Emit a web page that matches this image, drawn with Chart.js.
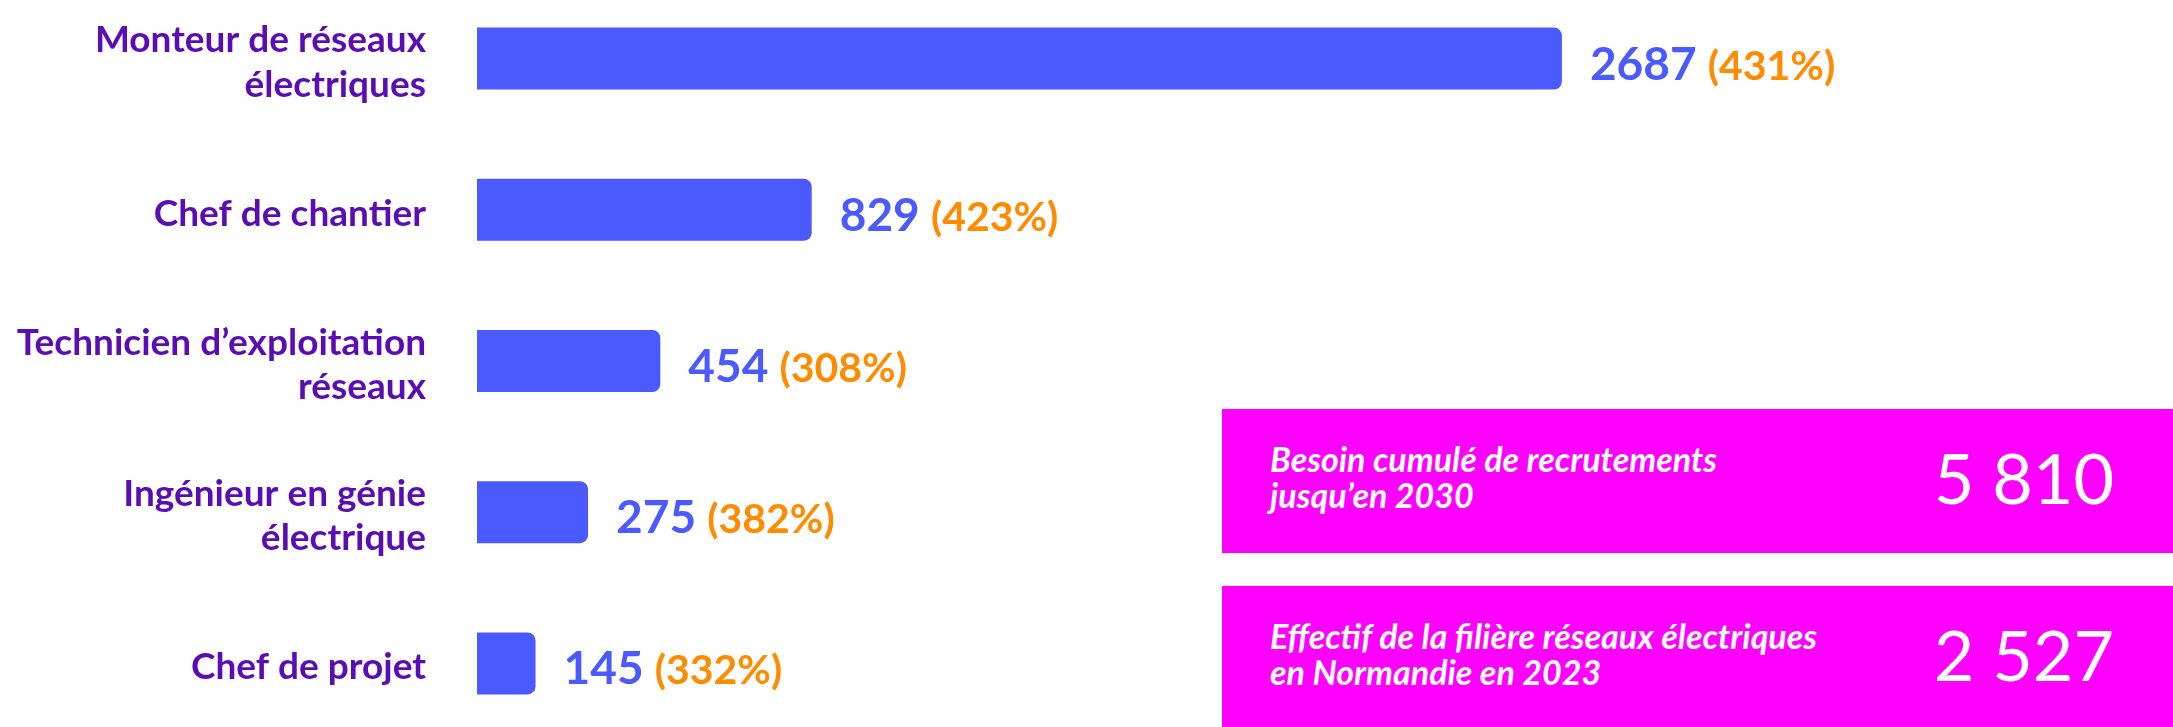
<!DOCTYPE html>
<html lang="fr">
<head>
<meta charset="utf-8">
<title>Besoins de recrutement - réseaux électriques</title>
<script src="https://cdn.jsdelivr.net/npm/chart.js@4.4.1/dist/chart.umd.min.js"></script>
<style>
  html, body { margin: 0; padding: 0; background: #fff; }
  body { width: 2173px; height: 727px; position: relative; overflow: hidden; font-family: Lato, sans-serif; }
  #wrap { position: absolute; left: 0; top: -17px; width: 2173px; height: 760px; }
  .box { position: absolute; left: 1222px; width: 951px; height: 144px; background: #ff00ff; color: #fff; }
  .box .txt { position: absolute; left: 48px; top: 32px; font-weight: 700; font-style: italic; font-size: 34px; line-height: 36px; white-space: pre; }
  .box .num { position: absolute; right: 59px; top: 33px; font-weight: 400; font-size: 70px; line-height: 70px; }
</style>
</head>
<body>
<div id="wrap"><canvas id="chart" width="2173" height="760"></canvas></div>
<div class="box" style="top:409px"><div class="txt" id="t0"></div><div class="num" id="n0"></div></div>
<div class="box" style="top:586px"><div class="txt" id="t1"></div><div class="num" id="n1"></div></div>
<script>
// data
const categories = [
  ['Monteur de réseaux', 'électriques'],
  'Chef de chantier',
  ['Technicien d’exploitation', 'réseaux'],
  ['Ingénieur en génie', 'électrique'],
  'Chef de projet'
];
const besoins = [2687, 829, 454, 275, 145];
const evolutions = [431, 423, 308, 382, 332];

const totalLabels = ['Besoin cumulé de recrutements\njusqu’en 2030', 'Effectif de la filière réseaux électriques\nen Normandie en 2023'];
const totalValues = ['5 810', '2 527'];

const BLUE = '#4a5aff';
const ORANGE = '#ff8c00';
const PURPLE = '#5b0db5';

totalLabels.forEach((t, i) => {
  document.getElementById('t' + i).textContent = t;
  document.getElementById('n' + i).textContent = totalValues[i];
});

// value + percentage after each bar
const valueLabels = {
  id: 'valueLabels',
  afterDatasetsDraw(chart) {
    const ctx = chart.ctx;
    const meta = chart.getDatasetMeta(0);
    ctx.save();
    ctx.textBaseline = 'alphabetic';
    ctx.textAlign = 'left';
    meta.data.forEach((bar, i) => {
      const x = bar.x + 28;
      const y = bar.y + 21;
      ctx.font = 'bold 46px Lato';
      ctx.fillStyle = BLUE;
      const v = String(besoins[i]);
      ctx.fillText(v, x, y);
      const w = ctx.measureText(v + ' ').width;
      ctx.font = 'bold 41px Lato';
      ctx.fillStyle = ORANGE;
      ctx.fillText('(' + evolutions[i] + '%)', x + w, y);
    });
    ctx.restore();
  }
};

new Chart(document.getElementById('chart'), {
  type: 'bar',
  data: {
    labels: categories,
    datasets: [{
      data: besoins,
      backgroundColor: BLUE,
      borderRadius: 8,
      barPercentage: 0.41,
      categoryPercentage: 1
    }]
  },
  options: {
    indexAxis: 'y',
    responsive: false,
    animation: false,
    devicePixelRatio: 1,
    layout: { padding: { top: 0, bottom: 4, right: 81, left: 0 } },
    plugins: { legend: { display: false }, tooltip: { enabled: false } },
    scales: {
      x: {
        min: 0,
        max: 4000,
        display: false
      },
      y: {
        grid: { display: false },
        border: { display: false },
        afterFit(scale) {
          scale.width = 477;
          // labels sit beside the bars, no extra room needed above/below
          scale.paddingTop = 0;
          scale.paddingBottom = 0;
        },
        ticks: {
          color: PURPLE,
          padding: 43,
          labelOffset: 4,
          font: { family: 'Lato', weight: 'bold', size: 37, lineHeight: 1.2 }
        }
      }
    }
  },
  plugins: [valueLabels]
});
</script>
</body>
</html>
